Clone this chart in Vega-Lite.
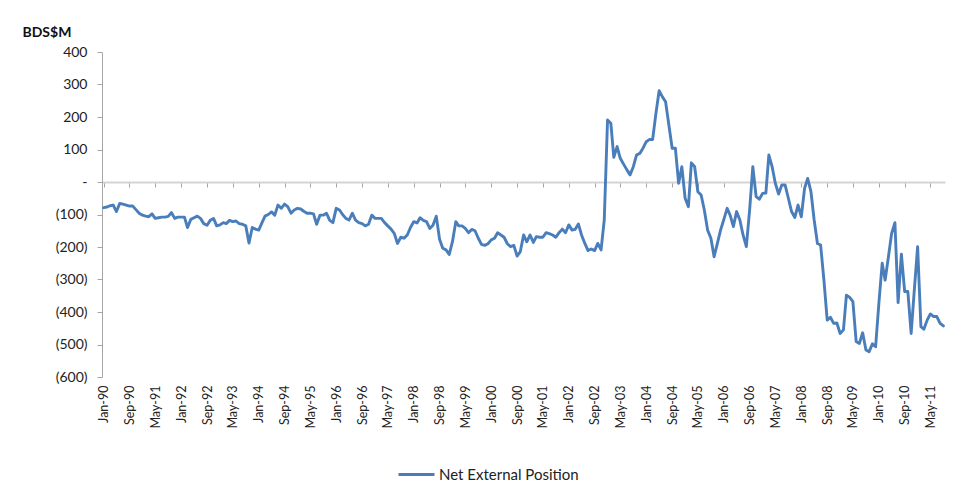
{
  "$schema": "https://vega.github.io/schema/vega-lite/v6.json",
  "width": 843,
  "height": 325,
  "autosize": "none",
  "padding": {"left": 102, "top": 52, "right": 9, "bottom": 108},
  "background": "white",
  "config": {"view": {"stroke": null}, "font": "Lato"},
  "data": {"values": [
    {"d":"1990-01-01","v":-79},{"d":"1990-02-01","v":-77},{"d":"1990-03-01","v":-73},{"d":"1990-04-01","v":-71},{"d":"1990-05-01","v":-91},{"d":"1990-06-01","v":-66},{"d":"1990-07-01","v":-68},{"d":"1990-08-01","v":-71},{"d":"1990-09-01","v":-74},{"d":"1990-10-01","v":-74},{"d":"1990-11-01","v":-85},{"d":"1990-12-01","v":-96},
    {"d":"1991-01-01","v":-102},{"d":"1991-02-01","v":-105},{"d":"1991-03-01","v":-107},{"d":"1991-04-01","v":-98},{"d":"1991-05-01","v":-112},{"d":"1991-06-01","v":-110},{"d":"1991-07-01","v":-108},{"d":"1991-08-01","v":-108},{"d":"1991-09-01","v":-106},{"d":"1991-10-01","v":-94},{"d":"1991-11-01","v":-112},{"d":"1991-12-01","v":-108},
    {"d":"1992-01-01","v":-108},{"d":"1992-02-01","v":-108},{"d":"1992-03-01","v":-140},{"d":"1992-04-01","v":-115},{"d":"1992-05-01","v":-110},{"d":"1992-06-01","v":-105},{"d":"1992-07-01","v":-112},{"d":"1992-08-01","v":-128},{"d":"1992-09-01","v":-133},{"d":"1992-10-01","v":-118},{"d":"1992-11-01","v":-112},{"d":"1992-12-01","v":-135},
    {"d":"1993-01-01","v":-132},{"d":"1993-02-01","v":-125},{"d":"1993-03-01","v":-128},{"d":"1993-04-01","v":-118},{"d":"1993-05-01","v":-122},{"d":"1993-06-01","v":-120},{"d":"1993-07-01","v":-128},{"d":"1993-08-01","v":-130},{"d":"1993-09-01","v":-135},{"d":"1993-10-01","v":-188},{"d":"1993-11-01","v":-140},{"d":"1993-12-01","v":-145},
    {"d":"1994-01-01","v":-148},{"d":"1994-02-01","v":-125},{"d":"1994-03-01","v":-105},{"d":"1994-04-01","v":-100},{"d":"1994-05-01","v":-92},{"d":"1994-06-01","v":-102},{"d":"1994-07-01","v":-71},{"d":"1994-08-01","v":-81},{"d":"1994-09-01","v":-68},{"d":"1994-10-01","v":-76},{"d":"1994-11-01","v":-96},{"d":"1994-12-01","v":-86},
    {"d":"1995-01-01","v":-81},{"d":"1995-02-01","v":-83},{"d":"1995-03-01","v":-90},{"d":"1995-04-01","v":-96},{"d":"1995-05-01","v":-96},{"d":"1995-06-01","v":-98},{"d":"1995-07-01","v":-130},{"d":"1995-08-01","v":-102},{"d":"1995-09-01","v":-102},{"d":"1995-10-01","v":-96},{"d":"1995-11-01","v":-118},{"d":"1995-12-01","v":-125},
    {"d":"1996-01-01","v":-81},{"d":"1996-02-01","v":-86},{"d":"1996-03-01","v":-100},{"d":"1996-04-01","v":-112},{"d":"1996-05-01","v":-117},{"d":"1996-06-01","v":-96},{"d":"1996-07-01","v":-117},{"d":"1996-08-01","v":-125},{"d":"1996-09-01","v":-128},{"d":"1996-10-01","v":-135},{"d":"1996-11-01","v":-130},{"d":"1996-12-01","v":-102},
    {"d":"1997-01-01","v":-112},{"d":"1997-02-01","v":-112},{"d":"1997-03-01","v":-112},{"d":"1997-04-01","v":-125},{"d":"1997-05-01","v":-135},{"d":"1997-06-01","v":-145},{"d":"1997-07-01","v":-158},{"d":"1997-08-01","v":-189},{"d":"1997-09-01","v":-170},{"d":"1997-10-01","v":-173},{"d":"1997-11-01","v":-163},{"d":"1997-12-01","v":-140},
    {"d":"1998-01-01","v":-122},{"d":"1998-02-01","v":-126},{"d":"1998-03-01","v":-110},{"d":"1998-04-01","v":-118},{"d":"1998-05-01","v":-122},{"d":"1998-06-01","v":-143},{"d":"1998-07-01","v":-133},{"d":"1998-08-01","v":-105},{"d":"1998-09-01","v":-176},{"d":"1998-10-01","v":-204},{"d":"1998-11-01","v":-209},{"d":"1998-12-01","v":-223},
    {"d":"1999-01-01","v":-183},{"d":"1999-02-01","v":-122},{"d":"1999-03-01","v":-135},{"d":"1999-04-01","v":-135},{"d":"1999-05-01","v":-143},{"d":"1999-06-01","v":-156},{"d":"1999-07-01","v":-146},{"d":"1999-08-01","v":-150},{"d":"1999-09-01","v":-173},{"d":"1999-10-01","v":-192},{"d":"1999-11-01","v":-195},{"d":"1999-12-01","v":-190},
    {"d":"2000-01-01","v":-178},{"d":"2000-02-01","v":-173},{"d":"2000-03-01","v":-156},{"d":"2000-04-01","v":-163},{"d":"2000-05-01","v":-170},{"d":"2000-06-01","v":-190},{"d":"2000-07-01","v":-199},{"d":"2000-08-01","v":-195},{"d":"2000-09-01","v":-228},{"d":"2000-10-01","v":-214},{"d":"2000-11-01","v":-163},{"d":"2000-12-01","v":-184},
    {"d":"2001-01-01","v":-163},{"d":"2001-02-01","v":-186},{"d":"2001-03-01","v":-168},{"d":"2001-04-01","v":-170},{"d":"2001-05-01","v":-170},{"d":"2001-06-01","v":-156},{"d":"2001-07-01","v":-159},{"d":"2001-08-01","v":-163},{"d":"2001-09-01","v":-170},{"d":"2001-10-01","v":-156},{"d":"2001-11-01","v":-145},{"d":"2001-12-01","v":-156},
    {"d":"2002-01-01","v":-132},{"d":"2002-02-01","v":-148},{"d":"2002-03-01","v":-146},{"d":"2002-04-01","v":-129},{"d":"2002-05-01","v":-163},{"d":"2002-06-01","v":-189},{"d":"2002-07-01","v":-211},{"d":"2002-08-01","v":-206},{"d":"2002-09-01","v":-211},{"d":"2002-10-01","v":-189},{"d":"2002-11-01","v":-209},{"d":"2002-12-01","v":-117},
    {"d":"2003-01-01","v":191},{"d":"2003-02-01","v":181},{"d":"2003-03-01","v":76},{"d":"2003-04-01","v":109},{"d":"2003-05-01","v":73},{"d":"2003-06-01","v":55},{"d":"2003-07-01","v":38},{"d":"2003-08-01","v":22},{"d":"2003-09-01","v":47},{"d":"2003-10-01","v":83},{"d":"2003-11-01","v":88},{"d":"2003-12-01","v":104},
    {"d":"2004-01-01","v":124},{"d":"2004-02-01","v":131},{"d":"2004-03-01","v":131},{"d":"2004-04-01","v":211},{"d":"2004-05-01","v":281},{"d":"2004-06-01","v":262},{"d":"2004-07-01","v":247},{"d":"2004-08-01","v":175},{"d":"2004-09-01","v":104},{"d":"2004-10-01","v":104},{"d":"2004-11-01","v":-4},{"d":"2004-12-01","v":47},
    {"d":"2005-01-01","v":-50},{"d":"2005-02-01","v":-76},{"d":"2005-03-01","v":59},{"d":"2005-04-01","v":47},{"d":"2005-05-01","v":-30},{"d":"2005-06-01","v":-40},{"d":"2005-07-01","v":-86},{"d":"2005-08-01","v":-148},{"d":"2005-09-01","v":-173},{"d":"2005-10-01","v":-230},{"d":"2005-11-01","v":-189},{"d":"2005-12-01","v":-148},
    {"d":"2006-01-01","v":-115},{"d":"2006-02-01","v":-81},{"d":"2006-03-01","v":-102},{"d":"2006-04-01","v":-137},{"d":"2006-05-01","v":-91},{"d":"2006-06-01","v":-117},{"d":"2006-07-01","v":-163},{"d":"2006-08-01","v":-199},{"d":"2006-09-01","v":-86},{"d":"2006-10-01","v":47},{"d":"2006-11-01","v":-45},{"d":"2006-12-01","v":-53},
    {"d":"2007-01-01","v":-35},{"d":"2007-02-01","v":-34},{"d":"2007-03-01","v":83},{"d":"2007-04-01","v":47},{"d":"2007-05-01","v":-4},{"d":"2007-06-01","v":-37},{"d":"2007-07-01","v":-9},{"d":"2007-08-01","v":-9},{"d":"2007-09-01","v":-50},{"d":"2007-10-01","v":-91},{"d":"2007-11-01","v":-109},{"d":"2007-12-01","v":-71},
    {"d":"2008-01-01","v":-107},{"d":"2008-02-01","v":-19},{"d":"2008-03-01","v":11},{"d":"2008-04-01","v":-30},{"d":"2008-05-01","v":-117},{"d":"2008-06-01","v":-189},{"d":"2008-07-01","v":-194},{"d":"2008-08-01","v":-302},{"d":"2008-09-01","v":-425},{"d":"2008-10-01","v":-416},{"d":"2008-11-01","v":-435},{"d":"2008-12-01","v":-434},
    {"d":"2009-01-01","v":-466},{"d":"2009-02-01","v":-455},{"d":"2009-03-01","v":-348},{"d":"2009-04-01","v":-355},{"d":"2009-05-01","v":-368},{"d":"2009-06-01","v":-491},{"d":"2009-07-01","v":-497},{"d":"2009-08-01","v":-464},{"d":"2009-09-01","v":-517},{"d":"2009-10-01","v":-522},{"d":"2009-11-01","v":-498},{"d":"2009-12-01","v":-507},
    {"d":"2010-01-01","v":-373},{"d":"2010-02-01","v":-250},{"d":"2010-03-01","v":-302},{"d":"2010-04-01","v":-230},{"d":"2010-05-01","v":-158},{"d":"2010-06-01","v":-125},{"d":"2010-07-01","v":-371},{"d":"2010-08-01","v":-222},{"d":"2010-09-01","v":-337},{"d":"2010-10-01","v":-337},{"d":"2010-11-01","v":-466},{"d":"2010-12-01","v":-332},
    {"d":"2011-01-01","v":-199},{"d":"2011-02-01","v":-445},{"d":"2011-03-01","v":-453},{"d":"2011-04-01","v":-425},{"d":"2011-05-01","v":-406},{"d":"2011-06-01","v":-414},{"d":"2011-07-01","v":-414},{"d":"2011-08-01","v":-435},{"d":"2011-09-01","v":-443}
  ]},
  "mark": {"type": "line", "strokeWidth": 2.9, "strokeJoin": "round", "strokeCap": "round"},
  "encoding": {
    "x": {
      "field": "d",
      "type": "temporal",
      "scale": {"type": "utc", "domain": [{"year": 1989, "month": 12, "date": 16, "utc": true}, {"year": 2011, "month": 9, "date": 16, "utc": true}]},
      "axis": {
        "orient": "bottom",
        "offset": -195,
        "title": null,
        "grid": false,
        "values": [
          {"year":1990,"month":1,"date":1,"utc":true},{"year":1990,"month":9,"date":1,"utc":true},{"year":1991,"month":5,"date":1,"utc":true},
          {"year":1992,"month":1,"date":1,"utc":true},{"year":1992,"month":9,"date":1,"utc":true},{"year":1993,"month":5,"date":1,"utc":true},
          {"year":1994,"month":1,"date":1,"utc":true},{"year":1994,"month":9,"date":1,"utc":true},{"year":1995,"month":5,"date":1,"utc":true},
          {"year":1996,"month":1,"date":1,"utc":true},{"year":1996,"month":9,"date":1,"utc":true},{"year":1997,"month":5,"date":1,"utc":true},
          {"year":1998,"month":1,"date":1,"utc":true},{"year":1998,"month":9,"date":1,"utc":true},{"year":1999,"month":5,"date":1,"utc":true},
          {"year":2000,"month":1,"date":1,"utc":true},{"year":2000,"month":9,"date":1,"utc":true},{"year":2001,"month":5,"date":1,"utc":true},
          {"year":2002,"month":1,"date":1,"utc":true},{"year":2002,"month":9,"date":1,"utc":true},{"year":2003,"month":5,"date":1,"utc":true},
          {"year":2004,"month":1,"date":1,"utc":true},{"year":2004,"month":9,"date":1,"utc":true},{"year":2005,"month":5,"date":1,"utc":true},
          {"year":2006,"month":1,"date":1,"utc":true},{"year":2006,"month":9,"date":1,"utc":true},{"year":2007,"month":5,"date":1,"utc":true},
          {"year":2008,"month":1,"date":1,"utc":true},{"year":2008,"month":9,"date":1,"utc":true},{"year":2009,"month":5,"date":1,"utc":true},
          {"year":2010,"month":1,"date":1,"utc":true},{"year":2010,"month":9,"date":1,"utc":true},{"year":2011,"month":5,"date":1,"utc":true}
        ],
        "labelExpr": "utcFormat(datum.value, '%b-%y')",
        "labelAngle": -90,
        "labelAlign": "right",
        "labelBaseline": "middle",
        "labelPadding": 198,
        "labelFont": "Lato",
        "labelFontSize": 12.5,
        "labelColor": "#222222",
        "labelOverlap": false,
        "labelFlush": false,
        "labelBound": false,
        "tickSize": 5,
        "tickColor": "#a6a6a6",
        "domainColor": "#d4d4d4",
        "domainWidth": 2
      }
    },
    "y": {
      "field": "v",
      "type": "quantitative",
      "scale": {"domain": [-600, 400], "nice": false, "zero": false},
      "axis": {
        "title": "BDS$M",
        "titleAngle": 0,
        "titleAlign": "left",
        "titleBaseline": "alphabetic",
        "titleX": -80,
        "titleY": -16,
        "titleFont": "Lato",
        "titleFontWeight": "bold",
        "titleFontSize": 14,
        "titleColor": "#111111",
        "grid": false,
        "values": [-600, -500, -400, -300, -200, -100, 0, 100, 200, 300, 400],
        "labelExpr": "datum.value == 0 ? '-\u00a0\u00a0\u00a0\u00a0\u00a0' : datum.value < 0 ? '(' + format(-datum.value, 'd') + ')' : format(datum.value, 'd') + '\u00a0\u00a0'",
        "labelFont": "Lato",
        "labelFontSize": 14,
        "labelColor": "#222222",
        "labelPadding": 10,
        "tickSize": 5,
        "tickColor": "#a6a6a6",
        "domainColor": "#a6a6a6",
        "domainWidth": 1
      }
    },
    "color": {
      "datum": "Net External Position",
      "type": "nominal",
      "scale": {"range": ["#4a7ebb"]},
      "legend": {
        "title": null,
        "orient": "none",
        "legendX": 295,
        "legendY": 403,
        "symbolType": "stroke",
        "symbolSize": 1296,
        "symbolStrokeWidth": 3,
        "labelFont": "Lato",
        "labelFontSize": 15,
        "labelColor": "#222222",
        "labelOffset": 3
      }
    }
  }
}
